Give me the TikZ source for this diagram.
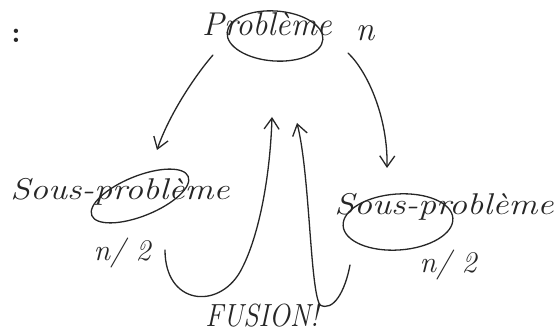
\documentclass[tikz,border=0pt]{standalone}
\usetikzlibrary{arrows.meta}
\definecolor{ink}{HTML}{262626}
\begin{document}
\begin{tikzpicture}[x=1pt,y=-1pt,
  hand/.style={text=ink,font=\itshape\fontsize{#1}{#1}\selectfont,inner sep=0pt},
  stroke/.style={draw=ink,line width=1.3pt,line cap=round,line join=round},
  arr/.style={stroke,-{Straight Barb[length=11pt,width=15pt,line width=1.3pt]}}]
\useasboundingbox[fill=white] (0,0) rectangle (560,336);
% texts
\node[hand=30,font=\bfseries\fontsize{30}{30}\selectfont] (colon) at (16,36) {:};
\node[hand=33] (prob) at (267,24) {Problème};
\node[hand=34] (n) at (365,33) {n};
\node[hand=30,xscale=1.2,transform shape] (sp1) at (120,192) {Sous-problème};
\node[hand=30] (h1) at (122,253) {n/ 2};
\node[hand=30,xscale=1.2,transform shape] (sp2) at (444,207) {Sous-problème};
\node[hand=30] (h2) at (448,265) {n/ 2};
\node[hand=32,xscale=0.87,transform shape] (fus) at (262,315) {FUSION!};
% circled parts
\draw[stroke,rotate around={-4:(275,36)}] (275,36) ellipse [x radius=48,y radius=25];
\draw[stroke,rotate around={22:(140,196)}] (140,196) ellipse [x radius=52,y radius=20];
\draw[stroke,rotate around={4:(398,222)}] (398,222) ellipse [x radius=55,y radius=28];
% connector end points
\coordinate (a1s) at (213,55);
\coordinate (a1e) at (157,150);
\coordinate (a2s) at (348,53);
\coordinate (a2e) at (387,168);
\coordinate (f1s) at (165,250);
\coordinate (f1e) at (272,117);
\coordinate (f2s) at (350,265);
\coordinate (f2e) at (297,123);
% split arrows
\draw[arr] (a1s) .. controls (198,72) and (170,112) .. (a1e);
\draw[arr] (a2s) .. controls (368,72) and (388,118) .. (a2e);
% fusion arrows
\draw[arr] (f1s) .. controls (165,305) and (218,310) .. (240,272)
  .. controls (258,240) and (270,180) .. (f1e);
\draw[arr] (f2s) .. controls (345,292) and (333,312) .. (320,305)
  .. controls (310,290) and (310,175) .. (f2e);
\end{tikzpicture}
\end{document}
